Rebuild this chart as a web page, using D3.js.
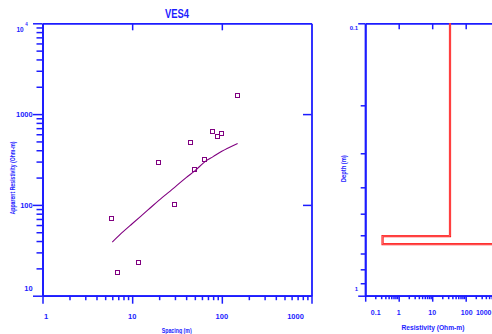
<!DOCTYPE html>
<html lang="en">
<head>
<meta charset="UTF-8">
<title>VES4</title>
<script src="https://d3js.org/d3.v7.min.js"></script>
<style>
  body { margin: 0; background: white; }
  svg { display: block; font-family: "Liberation Sans", Arial, sans-serif; font-weight: bold; }
</style>
</head>
<body>
<svg width="492" height="334"></svg>
<script>
// field data: spacing (m) vs apparent resistivity (ohm-m)
const spacing = [6, 7, 12, 20, 30, 45, 50, 65, 80, 90, 100, 150];
const appRes = [70, 18, 23, 290, 100, 480, 240, 310, 630, 560, 610, 1600];

// model fit curve
const fitSpacing = [6, 8, 10, 15, 20, 30, 40, 50, 65, 80, 100, 150];
const fitRes = [39, 51, 62, 88, 113, 157, 200, 237, 300, 340, 390, 475];

// layered model: resistivity of each layer, depth of each boundary
const layerRes = [34, 0.33, 5000];
const layerBottom = [0.604, 0.647];

const xTicks = [1, 10, 100, 1000];
const yTicks = [10, 100, 1000, 10000];
const resTicks = [0.1, 1, 10, 100, 1000];
const depthTicks = [0.1, 1];

const svg = d3.select("svg");
const blue = "#1c1cff";
const purple = "#800080";

const x = d3.scaleLog().domain([1, 1000]).range([42.5, 311.5]);
const y = d3.scaleLog().domain([10, 10000]).range([295.7, 23.3]);
const rx = d3.scaleLog().domain([0.1, 1000]).range([365.2, 499.2]);
const ry = d3.scaleLog().domain([0.1, 1]).range([23.3, 295.7]);

function minors(lo, hi) {
  const out = [];
  for (let d = lo; d < hi * 0.999; d *= 10)
    for (let k = 2; k <= 9; k++) out.push(d * k);
  return out;
}

function tickAxis(gen, values, size, tx, ty) {
  const g = svg.append("g")
    .attr("transform", `translate(${tx},${ty})`)
    .attr("color", blue)
    .call(gen.tickValues(values).tickSize(size).tickSizeOuter(0).tickFormat(() => ""));
  g.selectAll(".tick line").attr("stroke-width", 1.5);
  g.select(".domain").attr("stroke-width", 1.8);
  return g;
}

// ---- left plot: sounding curve ----
tickAxis(d3.axisBottom(x), minors(1, 1000), 4.5, 0, 295.7);
tickAxis(d3.axisBottom(x), xTicks, 8, 0, 295.7);
tickAxis(d3.axisLeft(y), minors(10, 10000), 6, 42.5, 0);
tickAxis(d3.axisLeft(y), yTicks, 9.5, 42.5, 0);
tickAxis(d3.axisTop(x), [10, 100], -7, 0, 23.3);
tickAxis(d3.axisRight(y), [100, 1000], -8.5, 311.5, 0);

svg.append("g").selectAll("text").data(xTicks).join("text")
  .attr("x", (d, i) => x(d) + (i === 0 ? 3.5 : i === xTicks.length - 1 ? -16 : 0))
  .attr("y", 318.5)
  .attr("text-anchor", "middle")
  .attr("font-size", 7.5)
  .attr("fill", blue)
  .text(d => d);

svg.append("g").selectAll("text").data(yTicks.slice(0, 3)).join("text")
  .attr("x", 32.7)
  .attr("y", (d, i) => y(d) + 2.7 + (i === 0 ? -7.7 : 0))
  .attr("text-anchor", "end")
  .attr("font-size", 7.5)
  .attr("fill", blue)
  .text(d => d);

const sup = svg.append("text")
  .attr("x", 16.5).attr("y", y(10000) + 9)
  .attr("font-size", 6.5).attr("fill", blue);
sup.append("tspan").text("10");
sup.append("tspan").attr("dx", 1.5).attr("dy", -6.5).attr("font-size", 4.5).text("4");

svg.append("text")
  .attr("x", 177).attr("y", 18.3)
  .attr("text-anchor", "middle")
  .attr("font-size", 12.5)
  .attr("textLength", 24).attr("lengthAdjust", "spacingAndGlyphs")
  .attr("fill", blue)
  .text("VES4");

svg.append("text")
  .attr("x", 176.7).attr("y", 332.5)
  .attr("text-anchor", "middle")
  .attr("font-size", 6.5)
  .attr("textLength", 30).attr("lengthAdjust", "spacingAndGlyphs")
  .attr("fill", blue)
  .text("Spacing (m)");

svg.append("text")
  .attr("transform", "translate(14.5,178) rotate(-90)")
  .attr("text-anchor", "middle")
  .attr("font-size", 7)
  .attr("textLength", 73).attr("lengthAdjust", "spacingAndGlyphs")
  .attr("fill", blue)
  .text("Apparent Resistivity (Ohm-m)");

const fitLine = d3.line()
  .x((d, i) => x(fitSpacing[i]))
  .y(d => y(d))
  .curve(d3.curveCatmullRom);

svg.append("path")
  .datum(fitRes)
  .attr("d", fitLine)
  .attr("fill", "none")
  .attr("stroke", purple)
  .attr("stroke-width", 1.1);

svg.append("g").selectAll("rect").data(spacing).join("rect")
  .attr("x", d => Math.round(x(d)) - 2.5)
  .attr("y", (d, i) => Math.round(y(appRes[i])) - 2.5)
  .attr("width", 4).attr("height", 4)
  .attr("fill", "none")
  .attr("stroke", purple)
  .attr("stroke-width", 1);

// ---- right plot: layered model ----
tickAxis(d3.axisBottom(rx), minors(0.1, 1000), 3.5, 0, 295.7);
tickAxis(d3.axisBottom(rx), resTicks, 6, 0, 295.7);
tickAxis(d3.axisTop(rx), [1, 10, 100], -6, 0, 23.3);
tickAxis(d3.axisLeft(ry), minors(0.1, 1), 4.5, 365.2, 0);
tickAxis(d3.axisLeft(ry), depthTicks, 7, 365.2, 0);

svg.append("g").selectAll("text").data(resTicks).join("text")
  .attr("x", (d, i) => rx(d) + [10.5, 0, 0, 1, -15.5][i])
  .attr("y", 315)
  .attr("text-anchor", "middle")
  .attr("font-size", 7)
  .attr("fill", blue)
  .text(d => d);

svg.append("g").selectAll("text").data(depthTicks).join("text")
  .attr("x", 358)
  .attr("y", (d, i) => ry(d) + 2.2 + (i === 0 ? 4.7 : -6.7))
  .attr("text-anchor", "end")
  .attr("font-size", 6)
  .attr("fill", blue)
  .text(d => d);

svg.append("text")
  .attr("x", 433).attr("y", 329.5)
  .attr("text-anchor", "middle")
  .attr("font-size", 8)
  .attr("textLength", 63).attr("lengthAdjust", "spacingAndGlyphs")
  .attr("fill", blue)
  .text("Resistivity (Ohm-m)");

svg.append("text")
  .attr("transform", "translate(345.5,168.7) rotate(-90)")
  .attr("text-anchor", "middle")
  .attr("font-size", 6.5)
  .attr("textLength", 27).attr("lengthAdjust", "spacingAndGlyphs")
  .attr("fill", blue)
  .text("Depth (m)");

// step path of the model
const steps = [];
let layerTop = 0.1;
layerRes.forEach((r, i) => {
  const bottom = i < layerBottom.length ? layerBottom[i] : 1;
  steps.push([r, layerTop]);
  if (i < layerBottom.length) steps.push([r, bottom]);
  layerTop = bottom;
});
const stepLine = d3.line().x(d => rx(d[0])).y(d => ry(d[1]));

svg.append("path")
  .datum(steps)
  .attr("d", stepLine)
  .attr("fill", "none")
  .attr("stroke", "#ff1a1a")
  .attr("stroke-width", 2.2);
svg.append("path")
  .datum(steps)
  .attr("d", stepLine)
  .attr("fill", "none")
  .attr("stroke", "#ff9a9a")
  .attr("stroke-width", 0.6);
</script>
</body>
</html>
